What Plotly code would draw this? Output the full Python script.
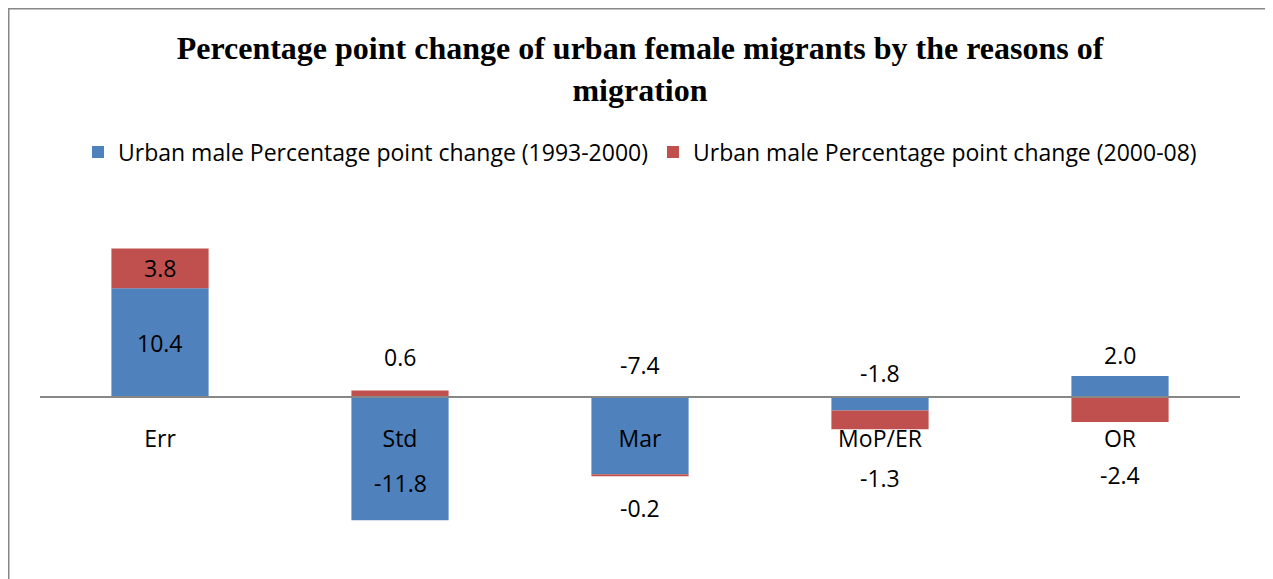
import plotly.graph_objects as go

categories = ["Err", "Std", "Mar", "MoP/ER", "OR"]
change_1993_2000 = [10.4, -11.8, -7.4, -1.3, 2.0]
change_2000_08 = [3.8, 0.6, -0.2, -1.8, -2.4]
series_names = [
    "Urban male Percentage point change (1993-2000)",
    "Urban male Percentage point change (2000-08)",
]

# label placement (value-axis units), layout only
label_y_blue = [5.2, -8.2, 3.1, -7.75, 4.0]
label_y_red = [12.3, 3.8, -10.6, 2.3, -7.45]

BLUE = "#4F81BD"
RED = "#C0504D"
GRID = "#878787"
FONT = "Open Sans"

y_range = [-16, 20]
W, H = 1265, 571
L, R, T, B = 32, 33, 180, 15
pw = W - L - R
ph = H - T - B

fig = go.Figure()
fig.add_trace(go.Bar(x=categories, y=change_1993_2000, name=series_names[0],
                     marker=dict(color=BLUE, line=dict(width=0))))
fig.add_trace(go.Bar(x=categories, y=change_2000_08, name=series_names[1],
                     marker=dict(color=RED, line=dict(width=0))))

annotations = []
for c, v, ly in zip(categories, change_1993_2000, label_y_blue):
    annotations.append(dict(x=c, y=ly, xref="x", yref="y", text=f"{v:.1f}",
                            showarrow=False, font=dict(family=FONT, size=23, color="black")))
for c, v, ly in zip(categories, change_2000_08, label_y_red):
    annotations.append(dict(x=c, y=ly, xref="x", yref="y", text=f"{v:.1f}",
                            showarrow=False, font=dict(family=FONT, size=23, color="black")))

def px_x(p):
    return (p - L) / pw

def px_y(p):
    return (H - B - p) / ph

fig.update_layout(
    width=W, height=H,
    margin=dict(l=L, r=R, t=T, b=B),
    paper_bgcolor="white", plot_bgcolor="white",
    barmode="relative", bargap=0.595,
    title=dict(
        text="<b>Percentage point change of urban female migrants by the reasons of<br>migration</b>",
        x=px_x(632), xanchor="center", xref="paper",
        y=1 - 51 / H, yanchor="top", yref="container",
        font=dict(family="Liberation Serif", size=32, color="black"),
    ),
    legend=dict(orientation="h", x=0.5, xanchor="center", y=px_y(144), yanchor="middle",
                font=dict(family=FONT, size=23, color="black"), traceorder="normal",
                itemwidth=30, bgcolor="rgba(0,0,0,0)"),
    xaxis=dict(anchor="free", position=(0 - y_range[0]) / (y_range[1] - y_range[0]),
               showline=True, linecolor=GRID, linewidth=1.5, ticks="",
               showgrid=False, zeroline=False, ticklabelstandoff=22,
               tickfont=dict(family=FONT, size=23, color="black"), layer="above traces"),
    yaxis=dict(range=y_range, visible=False, showgrid=False, zeroline=False),
    annotations=annotations,
    shapes=[dict(type="rect", xref="paper", yref="paper",
                 x0=px_x(0.5), x1=px_x(1262), y0=px_y(620), y1=px_y(0.5),
                 line=dict(color=GRID, width=2), fillcolor="rgba(0,0,0,0)", layer="below")],
)

fig.write_html("out.html")
